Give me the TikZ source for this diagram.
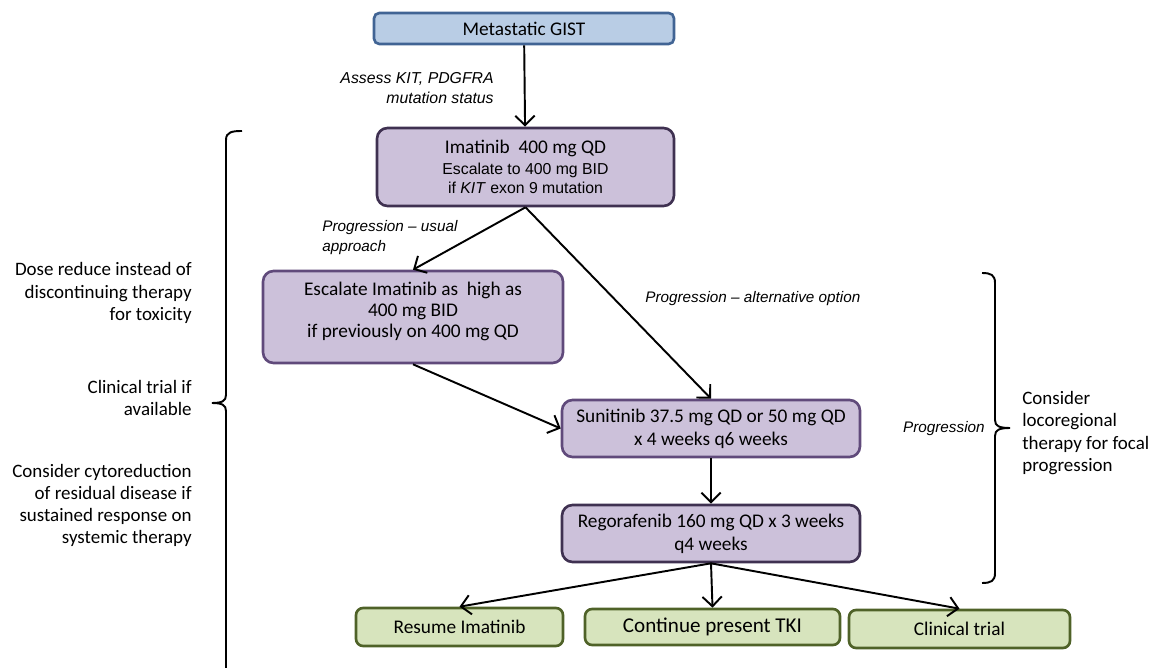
\documentclass[tikz,border=0pt]{standalone}
\usepackage{fontspec}
\setmainfont{Carlito}
\newfontfamily\labelfont{Liberation Sans}
\usetikzlibrary{arrows.meta}

\definecolor{bluefill}{RGB}{185,205,229}
\definecolor{blueline}{RGB}{65,100,148}
\definecolor{lilafill}{RGB}{204,193,218}
\definecolor{liladark}{RGB}{63,49,81}
\definecolor{lilaline}{RGB}{96,74,123}
\definecolor{greenfill}{RGB}{215,228,189}
\definecolor{greenline}{RGB}{79,98,40}

\newcommand{\boxtext}{\fontsize{11}{13}\selectfont}
\newcommand{\sidetext}{\fontsize{10.8}{12.6}\selectfont}
\newcommand{\smalltext}{\labelfont\fontsize{9}{11}\selectfont}
\newcommand{\labeltext}{\labelfont\itshape\fontsize{8.7}{11}\selectfont}

\begin{document}
\begin{tikzpicture}[x=0.02cm, y=-0.02cm, >={Straight Barb[length=5.5pt,width=11pt]},
    box/.style={draw, rounded corners=6pt, line width=1.5pt, align=center, inner sep=2pt, font=\boxtext},
    gistbox/.style={box, fill=bluefill, draw=blueline, rounded corners=3pt},
    lilabox/.style={box, fill=lilafill, draw=lilaline},
    darkbox/.style={box, fill=lilafill, draw=liladark},
    greenbox/.style={box, fill=greenfill, draw=greenline, rounded corners=4pt},
    link/.style={->, line width=1.1pt},
    lbl/.style={font=\labeltext, inner sep=0pt},
    side/.style={font=\sidetext, inner sep=0pt}]

    \useasboundingbox (0,0) rectangle (1155,668);

    % boites
    \node[gistbox, minimum width=6cm, minimum height=0.62cm] (gist) at (524,28.5) {Metastatic GIST};
    \node[darkbox, minimum width=5.94cm, minimum height=1.56cm] (imat) at (525.5,167)
        {Imatinib~ 400 mg QD\\[-1pt]{\smalltext Escalate to 400 mg BID}\\[-2pt]{\smalltext if \textit{KIT} exon 9 mutation}};
    \node[lilabox, minimum width=6cm, minimum height=1.84cm, font=\fontsize{11}{12}\selectfont, text depth=8pt] (esc) at (413,317)
        {Escalate Imatinib as~ high as\\400 mg BID\\if previously on 400 mg QD};
    \node[lilabox, minimum width=5.96cm, minimum height=1.14cm] (suni) at (711,428.5)
        {Sunitinib 37.5 mg QD or 50 mg QD\\x 4 weeks q6 weeks};
    \node[darkbox, minimum width=5.96cm, minimum height=1.14cm] (rego) at (711,533.5)
        {Regorafenib 160 mg QD x 3 weeks\\q4 weeks};
    \node[greenbox, minimum width=4.14cm, minimum height=0.76cm] (resume) at (459.5,627) {Resume Imatinib};
    \node[greenbox, minimum width=5.1cm, minimum height=0.72cm, font=\fontsize{12}{14}\selectfont] (cont) at (712.5,627) {Continue present TKI};
    \node[greenbox, minimum width=4.42cm, minimum height=0.76cm] (trial) at (959.5,629) {Clinical trial};

    % fleches
    \draw[link] (gist) -- (imat);
    \draw[link] (imat.south) -- (esc.north);
    \draw[link] (imat.south) -- (suni.north);
    \draw[link] (esc.south) -- (suni.west);
    \draw[link] (suni) -- (rego);
    \draw[link] (rego.south) -- (resume.north);
    \draw[link] (rego.south) -- (cont.north);
    \draw[link] (rego.south) -- (trial.north);

    % etiquettes
    \node[lbl, anchor=east, align=right, font=\labelfont\itshape\fontsize{9}{11.4}\selectfont] (assess) at (494,88) {Assess KIT, PDGFRA\\mutation status};
    \node[lbl, anchor=west, align=left] (usual) at (322,237.5) {Progression – usual\\approach};
    \node[lbl, anchor=west] (alt) at (645,299) {Progression – alternative option};
    \node[lbl, anchor=east] (prog) at (985,429) {Progression};

    % accolade gauche
    \draw[line width=1.1pt] (242,131) .. controls (232,131) and (226,132) .. (226,140) -- (226,395)
        .. controls (226,401) and (222,403) .. (212,403)
        .. controls (222,403) and (226,405) .. (226,411) -- (226,675);
    \node[side, anchor=east, align=right] (dose) at (192,293) {Dose reduce instead of\\discontinuing therapy\\for toxicity};
    \node[side, anchor=east, align=right] (clin) at (192,398) {Clinical trial if\\available};
    \node[side, anchor=east, align=right] (cyto) at (192,505.5) {Consider cytoreduction\\of residual disease if\\sustained response on\\systemic therapy};

    % accolade droite
    \draw[line width=1.1pt] (982,273) .. controls (991,273) and (995,275) .. (995,283) -- (995,420)
        .. controls (995,426) and (999,428) .. (1010,428)
        .. controls (999,428) and (995,430) .. (995,436) -- (995,573)
        .. controls (995,581) and (991,583) .. (982,583);
    \node[side, anchor=west, align=left] (loco) at (1022,433) {Consider\\locoregional\\therapy for focal\\progression};

\end{tikzpicture}
\end{document}
